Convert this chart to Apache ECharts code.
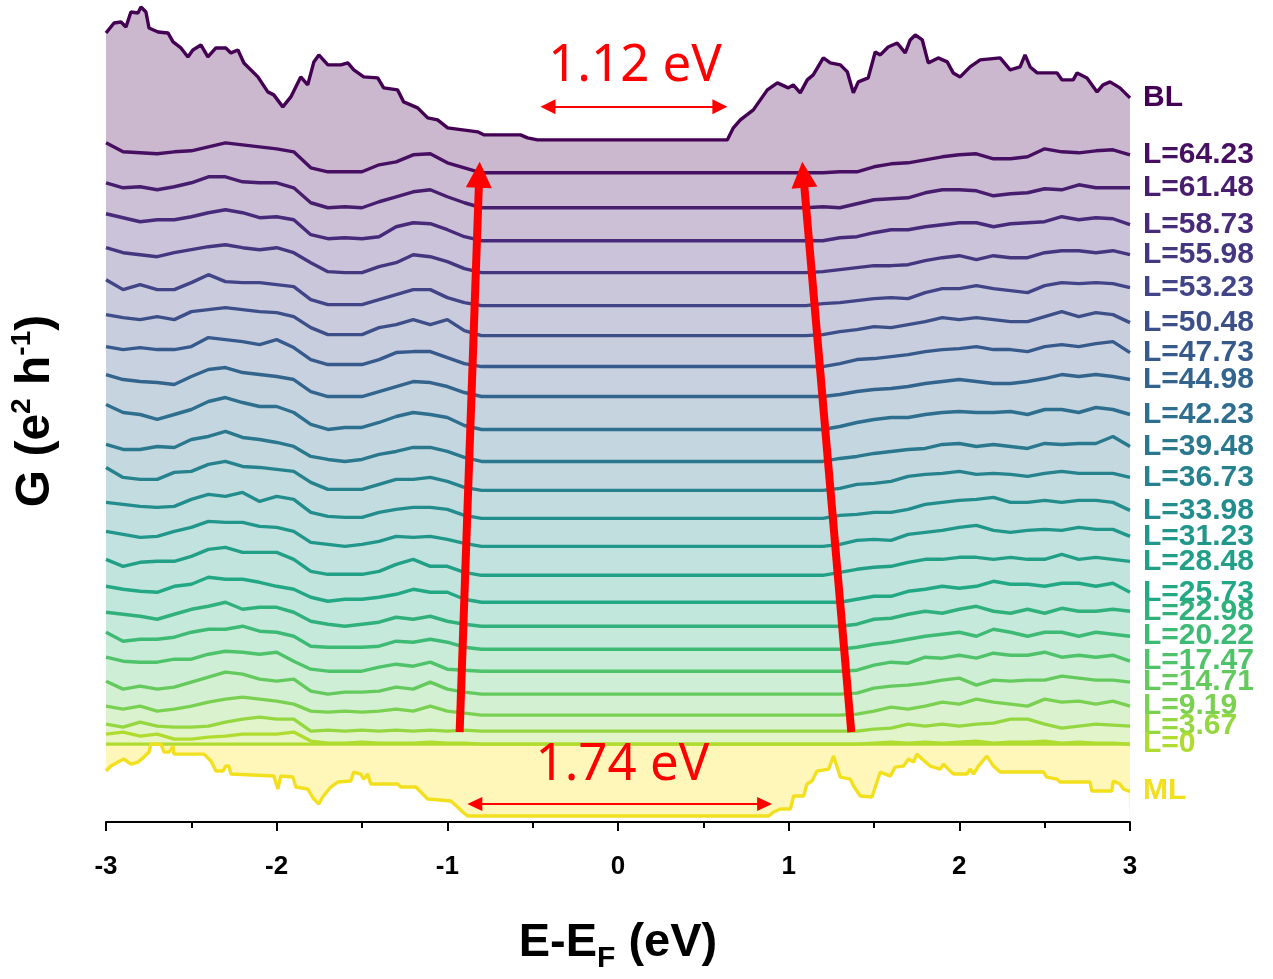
<!DOCTYPE html>
<html><head><meta charset="utf-8">
<script src="https://cdn.jsdelivr.net/npm/echarts@6/dist/echarts.min.js"></script>
<style>html,body{margin:0;padding:0;background:#fff}#c{width:1273px;height:979px}</style>
</head><body><div id="c"></div>
<script>
// ---------- data (conductance G, arbitrary offset units) ----------
const energyLeft  = [-3.0,-2.9,-2.8,-2.7,-2.6,-2.5,-2.4,-2.3,-2.2,-2.1,-2.0,-1.9,-1.8,-1.7,-1.6,-1.5,-1.4,-1.3,-1.2,-1.1,-1.0,-0.9,-0.8];
const energyRight = [1.1,1.2,1.3,1.4,1.5,1.6,1.7,1.8,1.9,2.0,2.1,2.2,2.3,2.4,2.5,2.6,2.7,2.8,2.9,3.0];
const curveNames = ['L=64.23','L=61.48','L=58.73','L=55.98','L=53.23','L=50.48','L=47.73','L=44.98','L=42.23','L=39.48','L=36.73','L=33.98','L=31.23','L=28.48','L=25.73','L=22.98','L=20.22','L=17.47','L=14.71','L=9.19','L=3.67','L=0'];
const curveOffsets = [650,615,582,550,517,487,456,426,393,361,332,304,276,247,220,196,173,151,128,107,91,78];
const gLeft = [
 [30,21,20,19,21,22,26,30,28,26,24,21,5,1,1,1,8,11,18,19,10,5,0],
 [25,20,21,18,21,25,31,31,26,25,25,20,5,0,1,0,6,11,16,18,11,5,0],
 [27,23,19,21,21,24,28,31,28,23,24,21,6,2,3,2,4,14,18,17,11,4,0],
 [25,20,18,16,20,23,26,28,25,23,25,20,10,1,0,0,6,10,18,16,11,4,0],
 [26,16,21,16,16,23,31,24,23,23,21,19,6,1,1,1,6,11,16,16,8,3,0],
 [21,18,16,19,16,24,26,28,26,24,23,19,8,1,1,1,8,11,16,11,16,5,0],
 [20,17,19,17,17,20,29,27,25,22,27,19,7,2,2,2,7,14,15,15,9,3,0],
 [22,17,15,14,12,20,27,29,24,22,20,17,5,0,0,0,5,10,15,14,10,4,0],
 [25,17,15,10,15,20,28,32,27,23,23,17,5,0,2,2,7,13,17,15,12,4,0],
 [17,12,12,15,14,22,25,30,24,22,19,15,5,2,0,2,7,10,14,14,10,4,0],
 [23,13,11,11,18,19,26,29,24,23,21,19,8,1,1,1,6,11,11,13,9,3,0],
 [16,14,12,11,12,19,24,22,26,17,22,19,6,2,1,1,6,9,11,11,9,3,0],
 [15,12,9,10,15,19,25,24,24,20,19,15,4,2,0,2,5,10,9,10,7,3,0],
 [16,9,13,14,14,19,26,28,23,23,23,16,4,1,1,1,4,11,16,9,9,3,0],
 [16,13,11,10,16,18,25,23,23,20,16,13,5,1,3,3,5,8,13,10,10,3,0],
 [14,12,10,7,12,17,20,24,17,19,19,14,5,2,0,2,4,9,7,10,5,2,0],
 [17,8,10,10,12,17,20,20,23,18,17,13,3,2,2,2,3,8,7,10,7,2,0],
 [14,10,9,9,12,12,17,20,19,17,19,10,2,0,0,0,4,7,5,9,2,1,0],
 [13,5,8,5,7,12,17,22,20,15,13,15,3,0,2,2,3,7,5,12,5,2,0],
 [9,6,9,4,6,9,13,16,18,16,14,11,4,3,4,3,4,6,4,9,4,2,0],
 [7,4,9,5,4,4,5,9,12,14,12,12,0,1,0,1,0,1,0,1,0,1,0],
 [10,12,8,10,5,5,7,8,10,10,10,12,3,1,1,2,1,1,1,2,1,1,0]
];
const gRight = [
 [0,0,1,1,6,9,10,13,16,18,19,14,14,16,24,21,20,22,23,18],
 [0,1,0,4,8,9,10,15,18,18,17,12,14,15,19,18,23,20,20,20],
 [0,0,3,4,8,11,11,14,16,18,18,14,17,18,19,24,21,23,22,16],
 [0,1,3,5,7,7,8,12,15,17,13,17,15,15,20,22,22,20,22,18],
 [0,2,3,5,7,8,7,13,17,17,20,17,15,13,20,23,22,23,22,18],
 [0,1,4,6,9,8,11,14,18,16,18,16,14,14,19,24,19,23,21,13],
 [0,0,3,7,8,10,12,15,17,18,20,17,17,15,20,22,20,23,25,14],
 [0,0,2,5,7,8,10,13,15,17,15,13,13,15,18,22,20,22,20,17],
 [0,0,3,7,10,12,12,15,17,18,17,17,18,15,20,20,17,22,20,15],
 [0,0,3,5,8,10,12,13,17,18,15,17,15,13,18,17,18,18,25,15],
 [0,0,2,6,7,9,14,16,17,19,16,17,16,14,17,19,17,17,17,13],
 [0,0,3,4,6,6,9,14,16,18,19,21,16,16,18,16,18,18,16,8],
 [0,0,2,6,7,6,12,14,16,19,21,16,14,16,17,16,19,17,17,10],
 [0,0,3,6,8,9,13,16,16,18,18,16,18,16,16,21,16,18,16,14],
 [0,0,0,3,6,6,11,13,16,14,16,21,18,18,16,19,19,16,19,10],
 [0,0,0,2,7,8,12,15,13,17,20,15,13,17,13,18,15,15,17,15],
 [0,0,0,2,5,7,10,13,15,17,13,20,17,13,17,17,13,17,15,13],
 [0,0,0,1,6,9,8,14,13,16,13,18,16,16,19,14,16,14,16,10],
 [0,0,0,1,6,8,9,11,14,16,9,14,13,14,14,18,16,14,14,12],
 [0,0,0,1,4,8,6,9,13,11,16,13,11,9,16,13,14,11,14,9],
 [0,0,0,0,2,3,7,5,7,5,7,8,12,12,7,3,5,7,6,5],
 [0,0,0,0,1,2,1,2,1,2,3,1,2,2,3,1,2,1,1,0]
];
// bilayer (BL)
const blOffset = 683;
const blEnergy = [-3.000,-2.953,-2.912,-2.883,-2.854,-2.813,-2.795,-2.766,-2.748,-2.695,-2.637,-2.607,-2.561,-2.520,-2.491,-2.444,-2.403,-2.356,-2.298,-2.268,-2.227,-2.192,-2.110,-2.052,-2.017,-1.964,-1.917,-1.859,-1.818,-1.782,-1.753,-1.700,-1.624,-1.583,-1.548,-1.490,-1.408,-1.373,-1.291,-1.256,-1.174,-1.115,-1.057,-0.998,-0.822,-0.787,-0.571,-0.530,-0.471,0.641,0.676,0.717,0.793,0.834,0.875,0.934,0.998,1.027,1.068,1.109,1.144,1.203,1.244,1.303,1.344,1.379,1.408,1.466,1.507,1.537,1.583,1.636,1.683,1.712,1.742,1.783,1.818,1.876,1.929,1.964,2.005,2.063,2.122,2.239,2.298,2.356,2.385,2.415,2.456,2.573,2.602,2.667,2.690,2.748,2.807,2.842,2.883,2.941,3.000];
const blG = [107,117,118,113,128,127,133,128,112,108,107,98,92,83,90,95,83,92,92,87,90,77,63,48,45,33,43,63,55,78,85,75,75,77,70,63,62,52,50,38,32,22,20,12,8,5,5,2,0,0,12,20,30,40,50,57,52,55,47,60,65,82,77,75,68,47,58,62,88,85,93,97,87,100,105,100,77,82,78,67,63,73,80,82,70,73,85,73,67,67,60,60,67,62,48,55,58,52,42];
// monolayer (ML)
const mlOffset = 6;
const mlTopLevel = 78;
const mlEnergy = [-3.000,-2.971,-2.930,-2.895,-2.854,-2.813,-2.778,-2.748,-2.737,-2.678,-2.660,-2.631,-2.607,-2.602,-2.426,-2.385,-2.356,-2.315,-2.298,-2.280,-2.268,-2.017,-1.993,-1.976,-1.905,-1.888,-1.818,-1.782,-1.753,-1.730,-1.683,-1.642,-1.566,-1.548,-1.507,-1.490,-1.466,-1.449,-1.291,-1.273,-1.185,-1.115,-0.980,-0.940,-0.910,-0.881,0.883,0.912,0.951,1.010,1.029,1.088,1.107,1.137,1.166,1.234,1.263,1.302,1.361,1.380,1.420,1.488,1.537,1.595,1.624,1.673,1.702,1.732,1.751,1.781,1.829,1.888,1.907,1.946,1.966,2.044,2.063,2.083,2.112,2.161,2.200,2.239,2.493,2.512,2.571,2.590,2.766,2.776,2.893,2.902,2.941,2.961,2.990,3.000];
const mlG = [45,50,54,57,52,54,59,64,72,72,64,64,70,62,62,55,45,45,50,50,42,40,27,40,39,29,27,17,12,19,29,34,35,44,42,37,42,32,32,29,29,17,15,9,4,0,0,4,7,7,20,20,32,35,45,47,60,39,37,30,20,19,44,40,49,50,57,54,62,57,50,47,52,45,42,42,47,42,50,60,50,44,44,39,37,34,34,25,25,35,32,27,25,25];
// annotations (energy, offset units)
const gapArrowsLeft  = [[-0.928,90],[-0.813,648]];
const gapArrowsRight = [[1.367,90],[1.086,648]];
const blGapArrow = [[-0.410,716],[0.597,716]];
const mlGapArrow = [[-0.839,18],[0.859,18]];
const gapTexts = [{name:'1.12 eV', coord:[0.100,756]},{name:'1.74 eV', coord:[0.026,57]}];

// ---------- styling helpers ----------
const stops = ['#440154','#482475','#414487','#355f8d','#2a788e','#21918c','#22a884','#44bf70','#7ad151','#bddf26','#fde725'];
function hexRgb(h){return [parseInt(h.slice(1,3),16),parseInt(h.slice(3,5),16),parseInt(h.slice(5,7),16)];}
function viridis(t){const p=Math.max(0,Math.min(1,t))*10;const i=Math.min(9,Math.floor(p));const f=p-i;const a=hexRgb(stops[i]),b=hexRgb(stops[i+1]);return 'rgb('+a.map((v,k)=>Math.round(v+(b[k]-v)*f)).join(',')+')';}
function tint(rgb,a){const v=rgb.match(/\d+/g).map(Number);return 'rgb('+v.map(x=>Math.round(255-(255-x)*a)).join(',')+')';}
const FILL_A = 0.28;
const SANS = 'Liberation Sans, Arial, sans-serif';
const labelFont = {fontFamily:SANS, fontWeight:'bold', fontSize:30};

function makeSeries(name, data, color, fill, withLabel){
  return {
    type:'line', name, data, symbol:'none', showSymbol:false, silent:true, animation:false,
    lineStyle:{color, width:3.4}, itemStyle:{color},
    areaStyle:{color:fill, opacity:1, origin:'start'},
    endLabel: withLabel ? Object.assign({show:true, formatter:name, color, distance:13}, labelFont) : {show:false}
  };
}

const series = [];
const blColor = viridis(0);
series.push(makeSeries('BL', blEnergy.map((e,i)=>[e, blOffset+blG[i]]), blColor, tint(blColor,FILL_A), true));
curveNames.forEach((n,k)=>{
  const c = viridis((k+1)/25);
  const d = energyLeft.map((e,i)=>[e, curveOffsets[k]+gLeft[k][i]])
    .concat(energyRight.map((e,i)=>[e, curveOffsets[k]+gRight[k][i]]));
  series.push(makeSeries(n, d, c, tint(c,FILL_A), true));
});
const mlColor = viridis(1);
const l0Color = viridis(22/25);
series.push(makeSeries('ML-top', [[-3,mlTopLevel],[3,mlTopLevel]], l0Color, tint(mlColor,0.32), false));
const ml = makeSeries('ML', mlEnergy.map((e,i)=>[e, mlOffset+mlG[i]]), mlColor, '#ffffff', true);
ml.lineStyle.color = '#f2e01e'; ml.endLabel.color = '#f2e01e';
const red = '#ff0000';
ml.markLine = {
  silent:true, animation:false, label:{show:false}, symbol:['none','none'],
  data:[
    [{coord:gapArrowsLeft[0], symbol:'none', lineStyle:{color:red,width:8,type:'solid'}}, {coord:gapArrowsLeft[1], symbol:'triangle', symbolSize:[26,26]}],
    [{coord:gapArrowsRight[0], symbol:'none', lineStyle:{color:red,width:8,type:'solid'}}, {coord:gapArrowsRight[1], symbol:'triangle', symbolSize:[26,26]}],
    [{coord:blGapArrow[0], symbol:'triangle', symbolSize:[15,15], lineStyle:{color:red,width:2,type:'solid'}}, {coord:blGapArrow[1], symbol:'triangle', symbolSize:[15,15]}],
    [{coord:mlGapArrow[0], symbol:'triangle', symbolSize:[14,15], lineStyle:{color:red,width:2,type:'solid'}}, {coord:mlGapArrow[1], symbol:'triangle', symbolSize:[14,15]}]
  ],
  itemStyle:{color:red}
};
ml.markPoint = {
  silent:true, animation:false, symbol:'rect', symbolSize:1, itemStyle:{color:'rgba(0,0,0,0)'},
  label:{show:true, position:'inside', formatter:'{b}', color:red, fontFamily:'Noto Sans, Open Sans, sans-serif', fontSize:51},
  data: gapTexts
};
series.push(ml);

const chart = echarts.init(document.getElementById('c'), null, {renderer:'canvas'});
chart.setOption({
  animation:false,
  backgroundColor:'#ffffff',
  grid:{left:105, right:143, top:0, bottom:156},
  xAxis:{
    type:'value', min:-3, max:3, interval:1, z:10,
    axisLine:{show:true, onZero:false, lineStyle:{color:'#000', width:2}},
    axisTick:{show:true, length:9, lineStyle:{color:'#000', width:2}},
    minorTick:{show:true, splitNumber:2, length:6, lineStyle:{color:'#000', width:2}},
    splitLine:{show:false},
    axisLabel:{color:'#000', fontFamily:SANS, fontWeight:'bold', fontSize:26, margin:32},
    name:'{n|E-E}{s|F}{n| (eV)}', nameLocation:'middle', nameGap:90,
    nameTextStyle:{rich:{
      n:{fontFamily:SANS, fontWeight:'bold', fontSize:47, color:'#000', lineHeight:62},
      s:{fontFamily:SANS, fontWeight:'bold', fontSize:30, color:'#000', lineHeight:26, verticalAlign:'bottom'}
    }}
  },
  yAxis:{
    type:'value', min:0, max:823,
    axisLine:{show:false}, axisTick:{show:false}, axisLabel:{show:false}, splitLine:{show:false},
    name:'{n|G (e}{p|2}{n| h}{p|-1}{n|)}', nameLocation:'middle', nameRotate:90, nameGap:42,
    nameTextStyle:{rich:{
      n:{fontFamily:SANS, fontWeight:'bold', fontSize:48, color:'#000', lineHeight:56},
      p:{fontFamily:SANS, fontWeight:'bold', fontSize:28, color:'#000', lineHeight:34, verticalAlign:'top'}
    }}
  },
  series
});
</script></body></html>
